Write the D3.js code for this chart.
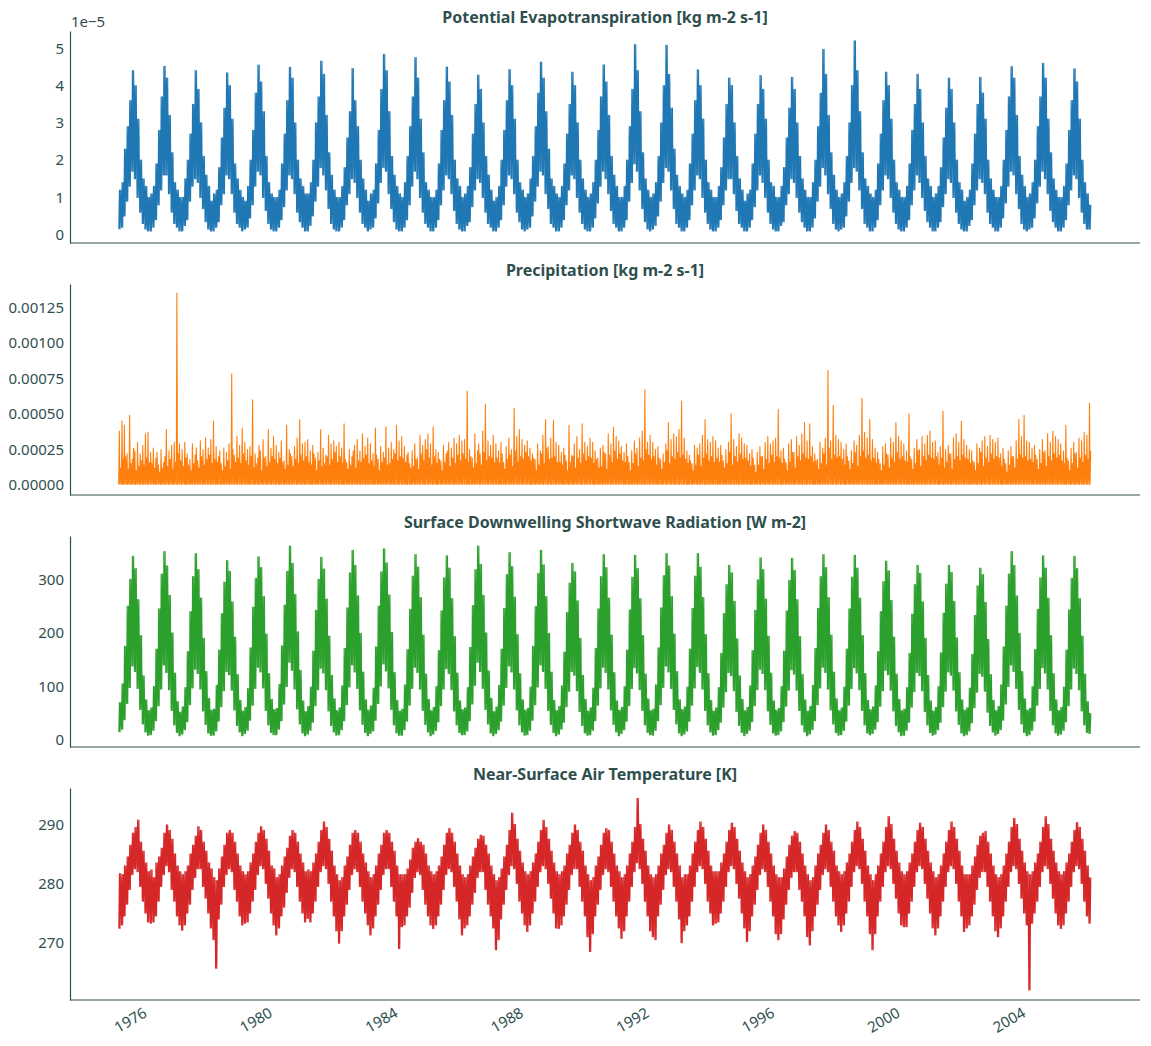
<!DOCTYPE html>
<html>
<head>
<meta charset="utf-8">
<script src="https://cdn.jsdelivr.net/npm/d3@7"></script>
<style>
  body { margin: 0; background: #fff; }
  svg text { font-family: "Noto Sans", sans-serif; fill: #2f4f4f; }
</style>
</head>
<body>
<div id="chart"></div>
<script>
// years covered by the daily series (one row of monthly values per year)
const years = [1975,1976,1977,1978,1979,1980,1981,1982,1983,1984,1985,1986,1987,1988,1989,1990,
               1991,1992,1993,1994,1995,1996,1997,1998,1999,2000,2001,2002,2003,2004,2005];
const xTickYears = [1976,1980,1984,1988,1992,1996,2000,2004];

// Potential evapotranspiration, monthly high / low of the daily values, in 1e-5 kg m-2 s-1
const evapHi = [
  [1.2,1.4,2.3,2.9,3.6,4.4,4.0,3.1,2.0,1.5,1.3,1.0],
  [1.1,1.3,1.9,2.8,3.7,4.52,4.2,3.2,2.2,1.4,1.2,1.0],
  [1.0,1.5,2.0,2.7,3.5,4.4,3.9,3.0,2.1,1.6,1.3,0.9],
  [1.1,1.2,1.8,2.6,3.4,4.34,4.0,3.1,1.9,1.5,1.2,1.0],
  [0.9,1.3,2.0,2.8,3.8,4.55,4.1,3.3,2.1,1.4,1.1,1.0],
  [1.0,1.2,1.9,2.7,3.6,4.49,4.2,3.0,2.0,1.5,1.3,1.1],
  [1.1,1.4,2.0,3.0,3.7,4.66,4.3,3.2,2.2,1.6,1.2,1.0],
  [1.0,1.3,1.8,2.6,3.3,4.46,3.6,2.9,2.0,1.5,1.2,0.9],
  [1.1,1.2,1.9,2.8,3.9,4.84,4.4,3.3,2.1,1.6,1.3,1.1],
  [1.0,1.4,2.1,2.9,3.7,4.75,4.2,3.1,2.2,1.4,1.2,1.0],
  [1.0,1.2,1.9,2.8,3.6,4.5,4.1,3.2,2.0,1.5,1.3,1.0],
  [1.1,1.3,1.8,2.7,3.5,4.28,3.9,3.0,2.1,1.6,1.2,0.9],
  [1.0,1.3,2.0,2.8,3.6,4.43,4.0,3.1,2.0,1.4,1.2,1.0],
  [1.1,1.5,2.1,2.9,3.8,4.63,4.2,3.3,2.3,1.5,1.3,1.1],
  [1.0,1.3,1.9,2.7,3.5,4.36,4.0,3.0,2.0,1.5,1.2,1.0],
  [1.1,1.4,2.0,2.8,3.7,4.56,4.1,3.2,2.1,1.6,1.3,1.0],
  [1.0,1.3,2.0,2.9,3.9,5.1,4.4,3.3,2.2,1.5,1.2,1.0],
  [1.1,1.4,2.1,3.0,4.0,5.08,4.3,3.4,2.3,1.6,1.3,1.1],
  [1.0,1.2,1.9,2.7,3.6,4.42,4.0,3.1,2.0,1.4,1.2,1.0],
  [1.0,1.3,1.8,2.6,3.5,4.2,4.0,3.0,2.1,1.5,1.2,0.9],
  [1.1,1.2,1.9,2.7,3.5,4.27,3.9,3.1,2.0,1.4,1.3,1.0],
  [1.0,1.3,1.8,2.6,3.4,4.22,3.9,3.0,2.1,1.5,1.2,1.0],
  [1.0,1.4,2.0,2.9,3.8,4.97,4.3,3.2,2.2,1.6,1.2,1.0],
  [1.1,1.4,2.1,3.0,4.0,5.2,4.4,3.3,2.2,1.5,1.3,1.1],
  [1.0,1.2,1.9,2.7,3.6,4.36,4.0,3.1,2.0,1.4,1.2,1.0],
  [1.0,1.3,1.9,2.8,3.5,4.3,3.9,3.0,2.1,1.5,1.3,1.0],
  [1.1,1.3,1.8,2.6,3.4,4.2,3.9,3.0,2.0,1.4,1.2,0.9],
  [1.0,1.2,1.9,2.7,3.5,4.22,3.8,3.1,2.0,1.5,1.2,1.0],
  [1.0,1.3,2.0,2.8,3.7,4.51,4.2,3.2,2.1,1.6,1.3,1.0],
  [1.1,1.4,2.0,2.9,3.7,4.6,4.2,3.1,2.2,1.5,1.2,1.0],
  [1.0,1.3,1.9,2.8,3.6,4.45,4.1,3.1,2.0,1.4,1.1,0.8]
];
const evapLo = [
  [0.15,0.2,0.5,0.9,1.3,1.7,1.5,1.0,0.6,0.3,0.15,0.1],
  [0.1,0.2,0.4,0.8,1.2,1.6,1.6,1.1,0.6,0.3,0.2,0.1],
  [0.1,0.25,0.4,0.9,1.3,1.5,1.4,1.0,0.7,0.35,0.15,0.1],
  [0.1,0.2,0.35,0.8,1.1,1.6,1.5,1.1,0.6,0.3,0.2,0.1],
  [0.15,0.2,0.45,0.8,1.3,1.7,1.6,1.0,0.65,0.3,0.15,0.1],
  [0.1,0.2,0.4,0.75,1.2,1.6,1.5,1.1,0.6,0.35,0.2,0.1],
  [0.1,0.25,0.5,0.9,1.3,1.8,1.6,1.2,0.7,0.3,0.15,0.1],
  [0.1,0.2,0.4,0.8,1.1,1.5,1.4,1.0,0.6,0.3,0.2,0.1],
  [0.15,0.2,0.45,0.85,1.4,1.8,1.7,1.1,0.7,0.35,0.15,0.1],
  [0.1,0.2,0.4,0.8,1.3,1.7,1.5,1.0,0.6,0.3,0.2,0.1],
  [0.1,0.2,0.4,0.8,1.2,1.6,1.5,1.1,0.65,0.3,0.15,0.1],
  [0.1,0.25,0.35,0.75,1.2,1.5,1.4,1.0,0.6,0.3,0.2,0.1],
  [0.1,0.2,0.4,0.8,1.3,1.6,1.5,1.1,0.6,0.35,0.15,0.1],
  [0.15,0.2,0.5,0.9,1.3,1.7,1.6,1.1,0.7,0.3,0.2,0.1],
  [0.1,0.2,0.4,0.8,1.2,1.6,1.5,1.0,0.6,0.3,0.15,0.1],
  [0.1,0.2,0.45,0.85,1.3,1.7,1.5,1.1,0.65,0.3,0.2,0.1],
  [0.1,0.2,0.4,0.9,1.4,1.9,1.7,1.2,0.7,0.35,0.15,0.1],
  [0.15,0.25,0.5,0.9,1.4,1.8,1.7,1.2,0.7,0.3,0.2,0.1],
  [0.1,0.2,0.4,0.8,1.2,1.6,1.5,1.0,0.6,0.3,0.15,0.1],
  [0.1,0.2,0.4,0.8,1.2,1.5,1.5,1.1,0.65,0.3,0.2,0.1],
  [0.1,0.2,0.4,0.75,1.2,1.6,1.4,1.0,0.6,0.3,0.15,0.1],
  [0.1,0.25,0.35,0.8,1.1,1.5,1.4,1.0,0.6,0.35,0.2,0.1],
  [0.1,0.2,0.45,0.9,1.3,1.8,1.6,1.1,0.7,0.3,0.15,0.1],
  [0.15,0.2,0.5,0.9,1.4,1.8,1.7,1.2,0.7,0.3,0.2,0.1],
  [0.1,0.2,0.4,0.8,1.2,1.6,1.5,1.0,0.6,0.3,0.15,0.1],
  [0.1,0.2,0.4,0.8,1.2,1.6,1.4,1.0,0.65,0.35,0.2,0.1],
  [0.1,0.2,0.35,0.75,1.1,1.5,1.4,1.0,0.6,0.3,0.15,0.1],
  [0.1,0.25,0.4,0.8,1.2,1.5,1.4,1.1,0.6,0.3,0.2,0.1],
  [0.1,0.2,0.45,0.85,1.3,1.7,1.6,1.1,0.7,0.3,0.15,0.1],
  [0.15,0.2,0.45,0.85,1.3,1.7,1.5,1.1,0.65,0.35,0.2,0.1],
  [0.1,0.2,0.4,0.8,1.2,1.6,1.5,1.0,0.6,0.3,0.15,0.15]
];

// Precipitation, two daily peaks per month (first / second half), in 1e-4 kg m-2 s-1
const prBase = 0.05;
const prA = [
  [3.8,4.5,4.2,2.2,4.9,1.8,2.4,3.0,2.2,2.8,3.6,3.7],
  [2.3,2.6,1.9,1.4,2.5,1.6,3.9,2.4,2.8,3.0,13.5,2.9],
  [2.5,3.0,2.2,1.8,2.9,2.1,1.7,3.1,2.5,3.3,2.6,3.2],
  [4.5,2.7,2.0,1.5,2.6,2.3,2.9,7.8,2.1,3.4,2.8,4.0],
  [3.0,2.5,2.7,6.0,2.2,1.9,2.4,3.2,2.0,3.9,2.6,3.4],
  [2.8,2.3,3.1,1.7,4.2,2.5,2.0,2.7,3.3,4.6,2.9,3.0],
  [3.2,2.4,2.8,1.9,2.3,3.9,2.6,2.1,3.5,2.9,3.1,2.7],
  [3.0,2.6,4.3,1.6,2.5,2.0,2.8,3.2,2.4,3.6,2.7,3.3],
  [2.9,2.2,4.0,1.8,2.7,2.3,4.1,2.6,3.0,2.5,4.2,3.1],
  [3.4,2.7,2.1,1.5,2.4,2.9,1.9,3.5,2.8,3.2,3.6,2.9],
  [4.1,2.5,2.3,1.7,2.8,2.2,3.0,2.6,3.3,2.9,3.5,3.1],
  [3.2,6.6,2.5,1.9,3.6,2.4,2.2,3.8,5.7,3.1,2.8,3.5],
  [2.9,2.4,3.0,1.6,2.7,3.3,2.5,5.4,3.4,3.9,3.2,2.8],
  [3.1,2.6,2.2,1.8,2.9,2.4,3.5,4.6,2.7,3.3,4.55,3.0],
  [2.8,2.3,2.6,1.7,4.2,2.1,2.9,3.4,2.5,4.3,3.0,2.7],
  [3.3,3.0,2.4,1.9,2.6,2.8,2.2,3.6,2.9,4.05,3.4,3.1],
  [2.7,2.3,2.9,1.6,2.4,3.1,2.6,3.3,3.8,6.7,3.0,3.5],
  [3.0,2.5,2.7,1.8,2.2,2.9,4.4,3.2,3.6,3.4,3.9,5.9],
  [3.3,2.4,2.1,1.5,2.8,2.6,2.9,3.5,4.6,3.2,3.0,3.4],
  [3.1,2.6,2.8,1.7,2.5,3.0,5.0,3.2,2.7,3.6,3.3,2.9],
  [2.8,2.2,2.5,1.4,2.3,2.7,2.0,3.0,3.4,2.9,3.1,3.3],
  [5.3,2.4,2.6,1.6,2.9,3.2,2.3,3.4,2.8,3.6,4.4,3.1],
  [4.3,2.7,2.2,1.8,3.0,2.6,3.3,8.05,3.1,5.6,3.5,3.2],
  [3.0,2.5,2.9,1.7,2.4,3.1,2.8,3.5,6.1,3.7,3.3,4.6],
  [3.2,2.6,2.3,1.5,2.7,2.9,2.1,3.3,3.0,4.4,3.4,3.1],
  [2.9,2.4,5.0,1.8,2.6,3.2,2.5,3.4,2.9,3.5,3.8,3.0],
  [3.1,2.3,2.7,5.2,2.5,2.8,2.2,3.3,3.6,3.0,4.5,3.2],
  [2.8,2.5,2.4,1.6,2.9,2.6,3.1,3.4,2.7,3.5,3.2,3.0],
  [3.3,2.2,2.6,1.5,2.4,2.7,2.0,3.1,4.6,3.4,4.9,3.1],
  [3.0,2.6,2.8,1.8,2.5,3.2,2.4,3.6,3.0,3.8,3.4,3.2],
  [2.9,2.4,4.2,1.7,2.6,3.0,2.3,3.3,3.1,3.7,3.5,5.75]
];
const prB = [
  [1.2,1.8,2.0,1.1,1.5,2.6,1.0,1.3,1.7,1.4,1.9,1.6],
  [1.5,1.2,2.3,0.9,1.2,2.0,1.3,1.8,1.1,1.6,2.2,1.7],
  [1.3,1.9,1.4,1.0,1.5,2.6,1.2,2.0,1.4,1.8,2.1,1.5],
  [1.8,1.6,2.4,1.0,1.3,1.7,1.1,2.5,1.6,1.9,1.5,2.2],
  [1.7,1.4,2.0,1.2,1.5,2.8,1.0,1.9,1.3,1.6,2.0,1.8],
  [1.5,1.9,1.6,1.1,1.4,2.2,1.3,1.8,1.5,2.1,1.7,2.0],
  [1.6,1.4,2.2,1.0,1.7,1.3,1.5,2.0,1.4,1.8,2.3,1.6],
  [2.0,1.5,1.8,1.1,1.4,2.4,1.2,1.7,1.6,1.9,2.1,1.5],
  [1.7,1.3,2.1,1.0,1.6,1.9,1.4,1.5,1.8,2.2,1.7,2.0],
  [1.9,1.6,2.3,1.2,1.3,1.8,1.1,2.2,1.7,2.5,1.9,1.4],
  [2.0,1.5,1.8,1.0,1.6,2.4,1.3,1.9,1.5,2.1,1.7,2.2],
  [1.8,1.6,2.0,1.2,1.5,2.9,1.4,2.3,1.7,2.0,1.9,1.6],
  [1.9,1.5,2.2,1.1,1.8,2.1,1.3,2.4,1.6,2.0,1.8,2.3],
  [2.0,1.7,1.9,1.0,1.4,2.2,1.5,2.6,1.8,1.9,2.0,1.6],
  [1.6,1.4,2.1,1.0,1.6,2.0,1.2,1.9,1.5,2.2,1.7,2.0],
  [1.9,1.5,1.8,1.2,1.3,2.3,1.1,2.1,1.6,2.4,1.8,2.2],
  [1.7,1.6,2.0,1.0,1.5,2.2,1.3,1.9,1.7,2.5,2.1,1.8],
  [2.0,1.4,1.9,1.1,1.6,2.4,1.5,2.0,1.8,2.3,1.9,2.1],
  [1.8,1.5,1.7,1.0,1.4,2.1,1.3,1.9,2.2,1.7,2.0,1.6],
  [1.9,1.6,2.1,1.2,1.5,2.3,1.4,2.0,1.6,2.2,1.8,1.9],
  [1.7,1.3,1.9,0.9,1.4,2.0,1.1,1.8,1.5,2.1,1.6,2.0],
  [1.9,1.5,1.8,1.0,1.6,2.3,1.2,2.0,1.7,2.2,1.9,1.8],
  [2.0,1.6,1.7,1.1,1.5,2.2,1.4,2.6,1.8,2.1,1.9,2.0],
  [1.8,1.4,2.0,1.1,1.5,2.3,1.3,2.0,2.4,1.9,2.1,1.7],
  [1.9,1.5,1.8,1.0,1.4,2.2,1.2,1.9,1.6,2.3,1.8,2.0],
  [1.7,1.6,2.0,1.1,1.5,2.4,1.3,2.0,1.7,2.1,1.9,1.8],
  [2.0,1.4,1.9,1.2,1.6,2.2,1.1,1.8,2.0,1.7,2.1,1.9],
  [1.8,1.5,1.7,1.0,1.5,2.3,1.3,1.9,1.6,2.2,1.8,2.0],
  [1.9,1.3,1.8,0.9,1.4,2.0,1.2,1.8,2.1,1.9,2.0,1.7],
  [1.8,1.6,2.1,1.1,1.5,2.3,1.3,2.0,1.7,2.2,1.9,2.1],
  [1.7,1.5,1.9,1.0,1.5,2.2,1.2,1.9,1.6,2.1,1.8,2.4]
];

// Surface downwelling shortwave radiation, monthly high / low, W m-2
const rsdsHi = [
  [70,105,175,250,300,343,320,262,195,120,75,55],
  [60,100,170,245,310,352,325,270,200,125,72,52],
  [62,98,165,240,305,348,318,265,190,128,78,56],
  [58,102,168,236,295,335,315,258,192,122,74,54],
  [61,96,172,248,302,342,322,268,198,124,76,57],
  [59,104,176,252,315,362,330,272,202,130,73,53],
  [63,99,166,242,300,341,319,263,194,121,77,55],
  [60,101,171,247,312,354,326,269,199,127,75,56],
  [64,97,174,250,314,357,331,271,201,126,74,54],
  [58,103,169,244,306,346,323,266,196,123,76,55],
  [61,100,167,241,303,344,321,264,193,125,73,57],
  [60,98,173,251,318,362,328,270,200,129,78,53],
  [62,102,170,246,309,350,324,267,197,124,75,56],
  [59,99,175,249,311,354,327,268,199,127,74,55],
  [63,101,164,238,293,330,314,260,190,121,76,54],
  [60,97,171,245,305,346,322,265,196,126,73,56],
  [61,100,168,243,304,345,320,264,195,123,77,55],
  [58,103,172,247,307,348,325,268,198,128,75,57],
  [62,99,170,246,306,348,323,266,197,124,74,54],
  [60,98,162,236,290,326,312,259,189,120,76,55],
  [61,101,167,242,299,340,318,263,194,125,73,56],
  [59,100,166,241,298,339,317,262,193,122,75,54],
  [63,102,171,246,305,346,322,266,196,127,77,55],
  [60,99,170,245,304,345,321,265,195,124,74,57],
  [62,101,165,240,296,334,316,261,192,123,76,55],
  [58,98,162,235,290,326,311,258,190,121,73,54],
  [61,100,163,237,291,326,313,259,191,126,75,56],
  [60,97,160,233,288,321,309,257,188,122,74,55],
  [63,103,174,250,310,352,326,269,199,128,77,56],
  [59,100,169,244,303,344,321,265,195,124,75,55],
  [61,99,168,243,302,343,320,264,194,123,72,50]
];
const rsdsLo = [
  [15,20,38,68,98,138,128,96,57,30,15,9],
  [10,18,36,64,95,140,126,94,55,28,14,8],
  [11,19,34,66,97,132,124,95,54,29,13,9],
  [9,17,35,62,92,128,122,93,56,27,15,8],
  [12,18,37,65,96,136,127,97,55,28,14,10],
  [10,20,36,67,100,145,130,95,58,30,13,8],
  [11,18,33,64,94,134,125,94,54,27,15,9],
  [10,19,36,66,99,140,127,96,56,29,14,8],
  [12,17,37,68,101,142,129,97,57,28,13,9],
  [9,19,35,65,96,136,126,95,55,29,15,8],
  [11,18,34,64,95,133,124,94,54,28,14,10],
  [10,17,36,67,102,145,128,96,57,30,13,8],
  [12,19,35,65,98,138,127,95,56,28,15,9],
  [10,18,37,66,99,140,128,96,55,29,14,8],
  [11,20,33,62,91,128,121,92,53,27,13,9],
  [10,18,36,65,97,136,126,95,56,29,15,8],
  [12,19,35,64,96,135,125,94,55,28,14,10],
  [9,18,36,66,98,138,127,96,57,30,13,8],
  [11,17,35,65,97,137,126,95,55,28,15,9],
  [10,19,33,61,90,126,120,92,53,27,14,8],
  [12,18,34,64,94,132,124,94,54,29,13,9],
  [10,17,34,63,93,131,123,93,55,28,15,8],
  [11,19,36,66,97,136,126,95,56,30,14,9],
  [10,18,35,65,96,135,125,94,55,28,13,10],
  [12,20,34,63,92,130,122,93,54,27,15,8],
  [9,18,33,61,90,126,120,92,53,28,14,9],
  [11,19,33,62,91,127,121,93,54,29,13,8],
  [10,17,32,60,89,124,119,91,52,27,15,9],
  [12,19,37,67,100,140,128,96,57,30,14,8],
  [10,18,35,65,96,135,125,95,55,28,13,9],
  [11,18,34,64,95,134,124,94,54,28,14,12]
];

// Near-surface air temperature, monthly high / low, K
const tasHi = [
  [281.7,281.5,283,284.5,286.5,288.5,289.5,290.7,287,285.5,283.5,282],
  [282.3,281,283.5,284.5,286,288.5,289.9,289,287.5,285,283,282],
  [281.5,282,283,285,286.5,288,289.6,289,287,285.5,283.5,282.5],
  [281,280.5,282.5,284.5,286.5,288.5,289,288.5,287,285,283,282],
  [281.5,282,283.5,285,287,288.5,289.6,289,287.5,285.5,283,282.5],
  [281,281.5,283,284.5,286,288,289,288.5,287,285,283.5,282],
  [282.3,282,283.5,285,287,289,290.4,289.5,287.5,285.5,283,281.5],
  [280.5,281,283,284.5,286.5,288.5,289,288.5,287,285,283.5,282],
  [281,281.5,283,285,286.5,288.5,289,288.5,287,285.5,283,281.5],
  [281.5,281.5,282.5,284,286,287,287.6,287,286.5,285,283,282],
  [281.5,282,283,284.5,286.5,288.5,289.3,288.5,287,285,283,281.5],
  [281,281.5,283,284.5,286,287.5,288.2,288,286.5,285,283,281.5],
  [280.5,281,282.5,284.5,286.5,289,291.9,290,287.5,285.5,283.5,282],
  [281.5,282,283.5,285,287,289,290.7,289.5,287.5,285.5,283.5,282],
  [281.5,282,283,285,286.5,288.5,289.9,289,287,285.5,283,281.5],
  [280.5,281,283,284.5,286.5,288.5,289.3,289,287,285,283,282],
  [281,281.5,283,285,287,289.5,294.4,290,287.5,285.5,283,281.5],
  [281,281.5,283,285,286.5,288.5,289.9,289,287,285,283,281],
  [281.5,281.5,283,285,287,289,290.4,289.5,287.5,285.5,283,282],
  [282,282,283.5,285,287,289,290.2,289.5,287.5,285.5,283.5,282],
  [281,281.5,283,284.5,286.5,288.5,289.9,289,287,285,283,281.5],
  [281,281,282.5,284.5,286.5,288,288.8,288.5,287,285,283,281.5],
  [280.5,281,283,285,286.5,288.5,289.9,289,287,285.5,283,282],
  [281.5,282,283.5,285,287,289,290.4,289.5,287.5,285.5,283,281.5],
  [280.5,281.5,283,285,287,289.5,291.3,290,287.5,285.5,283.5,282],
  [281.5,282,283.5,285,287,289,290.2,289.5,287.5,285.5,283.5,282],
  [281,281.5,283,285,287,289,290.4,289.5,287.5,285.5,283,281.5],
  [281.5,281.5,283,284.5,286.5,288,288.5,288.8,287,285,283,281.5],
  [281,281.5,283,285,287,289.5,291,290,287.5,285.5,283.5,282],
  [281.5,282,283.5,285,287,289.5,291.3,290,287.5,285.5,283.5,282],
  [281.5,282,283.5,285,287,289,290.3,289.5,287.5,285.5,283,281]
];
const tasLo = [
  [272.4,273,274.5,276.5,279,281.5,282.5,282,279.5,277,275,273.5],
  [273.3,273.5,274.5,277,279.5,281.5,283,282,279,277,274.5,273],
  [272.1,273,275,276.5,279,281,282.5,282.5,279.5,277.5,275,272.5],
  [270.5,265.7,274,276.5,279.5,281.5,282.5,282,279,277,274.5,273],
  [273.3,273.5,275,277,279,281.5,283,282.5,280,277.5,275,273],
  [271.3,272.5,274.5,276,278.5,281,282.5,282,279.5,277,275,273.5],
  [274.1,273.5,275,277,279.5,282,283,282.5,280,277,274.5,272],
  [269.9,272,274.5,276.5,279,281.5,282.5,282,279.5,277,275,273],
  [271.3,272.5,274.5,276.5,279,281.5,282.5,282.5,279.5,277,274.5,269],
  [272.7,273,274.5,276,278.5,281,282,281.5,279,276.5,274.5,273],
  [272.4,273,274.5,276.5,279,281.5,282.5,282,279.5,277,274,271.3],
  [272.5,273,274.5,276.5,278.5,281,282,282,279,276.5,274.5,272.5],
  [268.8,270.5,274,276.5,279,281.5,283,282.5,280,277,275,273],
  [271.9,273,275,277,279.5,282,283,282.5,280,277.5,275,272.5],
  [272.4,273,274.5,276.5,279,281.5,282.5,282.5,279.5,277,274.5,271],
  [268.5,271.5,274.5,276.5,279,281.5,282.5,282,279.5,277,274.5,272.5],
  [270.7,272,274.5,277,279.5,282,283.5,282.5,280,277,274.5,272],
  [271,270.5,274.5,276.5,279,281.5,282.5,282,279.5,277,274,270],
  [272,273,274.5,277,279.5,282,283,282.5,280,277,275,273],
  [273.3,273.5,275,277,279.5,282,283,282.5,280,277.5,275,272.5],
  [270.2,272,274.5,276.5,279,281.5,282.5,282,279.5,277,274.5,271.5],
  [270.5,271.5,274,276.5,279,281,282,282,279,277,274.5,271],
  [269.6,272,274.5,276.5,279,281.5,282.5,282,279.5,277,274.5,273],
  [271.9,273,275,277,279.5,282,283,282.5,280,277,274.5,271.5],
  [268.8,271.5,274.5,277,279.5,282,283,282.5,280,277.5,275,273],
  [272.7,272.7,275,277,279.5,282,283,282.5,280,277.5,275,272.5],
  [271.3,272.5,274.5,277,279.5,282,283,282.5,280,277,274.5,271.9],
  [272.5,273,274.5,276.5,279,281,282,282,279.5,277,274.5,272],
  [271,272.5,274.5,277,279.5,282,283,282.5,280,277.5,275,273],
  [262,273.3,275,277,279.5,282,283,282.5,280,277.5,275,273],
  [272.4,273,275,277,279.5,282,283,282.5,280,277,274.5,273.3]
];

// tick values per panel
const evapTicks = [0, 1, 2, 3, 4, 5];
const prTicks = [0, 0.25, 0.5, 0.75, 1.0, 1.25];
const rsdsTicks = [0, 100, 200, 300];
const tasTicks = [270, 280, 290];

const width = 1151, height = 1046;
const left = 70, right = 1140;
const ink = "#2f4f4f";

// each month's daily values swing between its low and high (two swings per month)
const swingDays = [[3, 10], [17, 25]];
function hiLoPoints(lo, hi, unit) {
  const pts = [];
  years.forEach((yr, i) => {
    for (let m = 0; m < 12; m++) {
      swingDays.forEach(([dLo, dHi]) => {
        pts.push({ t: new Date(yr, m, dLo), v: lo[i][m] * unit });
        pts.push({ t: new Date(yr, m, dHi), v: hi[i][m] * unit });
      });
    }
  });
  return pts;
}

// precipitation: two spikes per month rising from the dry baseline
function spikePoints(a, b, base, unit) {
  const pts = [];
  years.forEach((yr, i) => {
    for (let m = 0; m < 12; m++) {
      pts.push({ t: new Date(yr, m, 2), v: base * unit });
      pts.push({ t: new Date(yr, m, 9), v: a[i][m] * unit });
      pts.push({ t: new Date(yr, m, 16), v: base * unit });
      pts.push({ t: new Date(yr, m, 23), v: b[i][m] * unit });
    }
  });
  return pts;
}

const panels = [
  { title: "Potential Evapotranspiration [kg m-2 s-1]", color: "#1f77b4",
    top: 31, bottom: 243, domain: [-0.223e-5, 5.464e-5],
    ticks: evapTicks.map(d => d * 1e-5), fmt: d => String(Math.round(d / 1e-5)),
    offset: "1e\u22125", points: hiLoPoints(evapLo, evapHi, 1e-5) },
  { title: "Precipitation [kg m-2 s-1]", color: "#ff7f0e",
    top: 284, bottom: 495, domain: [-0.0000703, 0.0014135],
    ticks: prTicks.map(d => d * 1e-3), fmt: d => d.toFixed(5),
    points: spikePoints(prA, prB, prBase, 1e-4) },
  { title: "Surface Downwelling Shortwave Radiation [W m-2]", color: "#2ca02c",
    top: 536, bottom: 747, domain: [-13.07, 380.8],
    ticks: rsdsTicks, fmt: d => String(d),
    points: hiLoPoints(rsdsLo, rsdsHi, 1) },
  { title: "Near-Surface Air Temperature [K]", color: "#d62728",
    top: 788, bottom: 1000, domain: [260.32, 296.13],
    ticks: tasTicks, fmt: d => String(d),
    points: hiLoPoints(tasLo, tasHi, 1) }
];

const svg = d3.select("#chart").append("svg")
    .attr("width", width)
    .attr("height", height);

// time axis with matplotlib-like 5% margins
const tStart = new Date(1975, 0, 1), tEnd = new Date(2005, 11, 31);
const padX = (right - left) * 0.05 / 1.1;
const x = d3.scaleTime().domain([tStart, tEnd]).range([left + padX, right - padX]);

panels.forEach((p, i) => {
  const y = d3.scaleLinear().domain(p.domain).range([p.bottom, p.top]);
  const g = svg.append("g");

  const line = d3.line().x(d => x(d.t)).y(d => y(d.v));
  g.append("path")
    .datum(p.points)
    .attr("fill", "none")
    .attr("stroke", p.color)
    .attr("stroke-width", 1.1)
    .attr("stroke-linejoin", "round")
    .attr("d", line);

  // left axis (spine + labels, no tick marks)
  const ya = g.append("g")
    .attr("transform", `translate(${left},0)`)
    .call(d3.axisLeft(y).tickValues(p.ticks).tickFormat(p.fmt).tickSize(0).tickSizeOuter(0).tickPadding(6));
  ya.select(".domain").attr("stroke", ink).attr("stroke-width", 1.2);
  ya.selectAll("text").attr("font-family", null).style("font-size", "15px").attr("fill", ink);
  ya.attr("font-family", null);

  // bottom spine; dates only on the last panel
  const last = i === panels.length - 1;
  const xa = g.append("g")
    .attr("transform", `translate(0,${p.bottom})`)
    .call(d3.axisBottom(x)
      .tickValues(last ? xTickYears.map(yr => new Date(yr, 0, 1)) : [])
      .tickFormat(d3.timeFormat("%Y"))
      .tickSize(0).tickSizeOuter(0));
  xa.attr("font-family", null);
  xa.select(".domain").attr("stroke", ink).attr("stroke-width", 1.2)
    .attr("d", `M${left},0H${right}`);
  xa.selectAll("text")
    .attr("y", 0).attr("dy", 0)
    .attr("text-anchor", "end")
    .attr("transform", "translate(-2.5,16) rotate(-30)")
    .style("font-size", "15px").attr("fill", ink);

  g.append("text")
    .attr("x", (left + right) / 2)
    .attr("y", p.top - 8)
    .attr("text-anchor", "middle")
    .style("font-size", "16px")
    .style("font-weight", "bold")
    .text(p.title);

  if (p.offset) {
    g.append("text")
      .attr("x", left + 1)
      .attr("y", p.top - 4)
      .style("font-size", "15px")
      .text(p.offset);
  }
});
</script>
</body>
</html>
